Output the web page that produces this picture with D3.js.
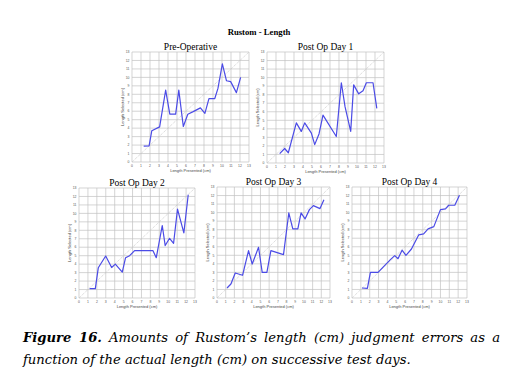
<!DOCTYPE html>
<html>
<head>
<meta charset="utf-8">
<script src="https://cdn.jsdelivr.net/npm/d3@7"></script>
<style>
  body { margin: 0; background: #fff; }
  svg { display: block; }
</style>
</head>
<body>
<svg id="chart" width="527" height="392"></svg>
<script>
// values (length presented -> length selected, cm)
var preOpX = [1.3, 1.9, 2.2, 3.07, 3.74, 4.2, 4.85, 5.2, 5.7, 6.2, 6.8, 7.6, 8.1, 8.55, 9.2, 9.55, 10.04, 10.5, 10.96, 11.6, 12.07];
var preOpY = [1.88, 1.9, 3.7, 4.15, 8.5, 5.65, 5.65, 8.5, 4.2, 5.65, 5.95, 6.4, 5.75, 7.5, 7.5, 8.7, 11.6, 9.6, 9.5, 8.2, 10.0];

var day1X = [1.41, 1.96, 2.37, 3.26, 3.81, 4.19, 4.93, 5.3, 5.78, 6.22, 7.7, 8.26, 8.67, 9.3, 9.63, 10.19, 10.67, 11.04, 11.78, 12.2];
var day1Y = [1.1, 1.7, 1.2, 4.7, 3.7, 4.7, 3.5, 2.15, 3.4, 5.6, 3.1, 9.4, 6.6, 3.7, 9.15, 8.1, 8.45, 9.4, 9.4, 6.4];

var day2X = [1.19, 1.83, 2.16, 2.99, 3.66, 4.07, 4.85, 5.22, 5.67, 6.23, 8.28, 8.66, 9.33, 9.66, 10.15, 10.6, 11.04, 11.75, 12.24];
var day2Y = [1.1, 1.1, 3.57, 4.96, 3.6, 4.0, 3.06, 4.76, 5.0, 5.6, 5.6, 4.76, 8.57, 6.2, 7.06, 6.47, 10.5, 7.7, 12.2];

var day3X = [1.15, 1.6, 2.1, 2.94, 3.63, 4.05, 4.78, 5.2, 5.74, 6.2, 7.65, 8.26, 8.72, 9.3, 9.67, 10.13, 10.63, 11.09, 11.85, 12.3];
var day3Y = [1.17, 1.64, 2.93, 2.66, 5.55, 3.98, 5.94, 3.0, 3.0, 5.55, 5.08, 9.96, 8.1, 8.1, 9.96, 9.26, 10.35, 10.82, 10.47, 11.5];

var day4X = [1.13, 1.74, 2.08, 2.94, 4.34, 4.83, 5.2, 5.66, 6.1, 6.72, 7.55, 8.1, 8.6, 9.25, 10.0, 10.57, 10.94, 11.62, 12.15];
var day4Y = [1.17, 1.13, 3.0, 3.0, 4.5, 4.96, 4.6, 5.6, 5.0, 5.74, 7.4, 7.5, 8.1, 8.36, 10.35, 10.43, 10.86, 10.86, 12.03];

var panelTitles = ["Pre-Operative", "Post Op Day 1", "Post Op Day 2", "Post Op Day 3", "Post Op Day 4"];
var tickValues = [0, 1, 2, 3, 4, 5, 6, 7, 8, 9, 10, 11, 12, 13];

// plot frames (left, top, right, bottom) for each panel
var frames = [
  [132, 52, 249, 162],
  [267, 52, 384, 163],
  [79, 188, 195, 298],
  [217, 187, 330, 298],
  [352, 187, 467, 298]
];
var series = [[preOpX, preOpY], [day1X, day1Y], [day2X, day2Y], [day3X, day3Y], [day4X, day4Y]];

var svg = d3.select('#chart');
var serif = '"Liberation Serif", "DejaVu Serif", serif';
var sans = '"Liberation Sans", Arial, sans-serif';

svg.append('text')
    .attr('x', 259).attr('y', 35)
    .attr('text-anchor', 'middle')
    .style('font-family', serif).style('font-weight', 'bold').style('font-size', '8.7px')
    .text('Rustom - Length');

frames.forEach(function(f, i) {
  var x = d3.scaleLinear().domain([0, 13]).range([f[0], f[2]]);
  var y = d3.scaleLinear().domain([0, 13]).range([f[3], f[1]]);
  var g = svg.append('g');

  // grid
  g.selectAll('line.vg').data(tickValues).enter().append('line')
      .attr('x1', function(d) { return x(d); }).attr('x2', function(d) { return x(d); })
      .attr('y1', f[1]).attr('y2', f[3])
      .attr('stroke', '#c2c2c2').attr('stroke-width', 0.7);
  g.selectAll('line.hg').data(tickValues).enter().append('line')
      .attr('y1', function(d) { return y(d); }).attr('y2', function(d) { return y(d); })
      .attr('x1', f[0]).attr('x2', f[2])
      .attr('stroke', '#c2c2c2').attr('stroke-width', 0.7);

  // tick labels
  g.selectAll('text.xt').data(tickValues).enter().append('text')
      .attr('x', function(d) { return x(d); }).attr('y', f[3] + 4.5)
      .attr('text-anchor', 'middle')
      .style('font-family', sans).style('font-size', '3.4px').attr('fill', '#555')
      .text(function(d) { return d; });
  g.selectAll('text.yt').data(tickValues).enter().append('text')
      .attr('x', f[0] - 2.5).attr('y', function(d) { return y(d) + 1.2; })
      .attr('text-anchor', 'end')
      .style('font-family', sans).style('font-size', '3.4px').attr('fill', '#555')
      .text(function(d) { return d; });

  g.append('text')
      .attr('x', (f[0] + f[2]) / 2).attr('y', f[3] + 9.5)
      .attr('text-anchor', 'middle')
      .style('font-family', sans).style('font-size', '4px').attr('fill', '#444')
      .text('Length Presented (cm)');
  g.append('text')
      .attr('transform', 'translate(' + (f[0] - 8) + ',' + ((f[1] + f[3]) / 2) + ') rotate(-90)')
      .attr('text-anchor', 'middle')
      .style('font-family', sans).style('font-size', '4px').attr('fill', '#444')
      .text('Length Selected (cm)');

  // identity line
  g.append('line')
      .attr('x1', x(0)).attr('y1', y(0)).attr('x2', x(13)).attr('y2', y(13))
      .attr('stroke', '#c4c4c4').attr('stroke-width', 0.8).attr('stroke-dasharray', '1,1');

  var pts = series[i][0].map(function(v, k) { return [v, series[i][1][k]]; });
  g.append('path')
      .datum(pts)
      .attr('d', d3.line().x(function(d) { return x(d[0]); }).y(function(d) { return y(d[1]); }))
      .attr('fill', 'none').attr('stroke', '#4b4be6').attr('stroke-width', 1.2)
      .attr('stroke-linejoin', 'round');

  svg.append('text')
      .attr('x', (f[0] + f[2]) / 2).attr('y', f[1] - 2.5)
      .attr('text-anchor', 'middle')
      .style('font-family', serif).style('font-size', '9.5px')
      .text(panelTitles[i]);
});

// caption: size the font so line 2 ends where it does in the picture, then justify line 1
var capFont = '"DejaVu Serif", serif';
var cap2 = svg.append('text')
    .attr('x', 23).attr('y', 364)
    .style('font-family', capFont).style('font-size', '12px').style('font-style', 'italic')
    .text('function of the actual length (cm) on successive test days.');
var fs = 12 * (411 - 23) / cap2.node().getComputedTextLength();
cap2.style('font-size', fs + 'px');

var cap1 = svg.append('text')
    .attr('x', 23).attr('y', 342)
    .style('font-family', capFont).style('font-size', fs + 'px').style('font-style', 'italic');
cap1.append('tspan').style('font-weight', 'bold').text('Figure 16.');
cap1.append('tspan').text(' Amounts of Rustom\u2019s length (cm) judgment errors as a');
var w = cap1.node().getComputedTextLength();
cap1.style('word-spacing', Math.max(0, (500 - 23 - w) / 10) + 'px');
</script>
</body>
</html>
